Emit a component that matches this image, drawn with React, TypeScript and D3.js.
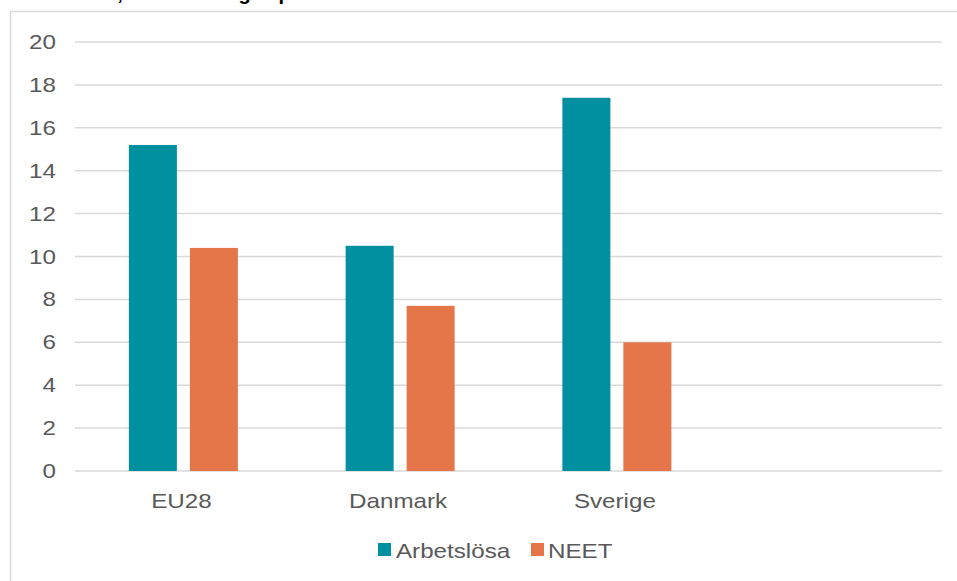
import React from "react";
import * as d3 from "d3";

const categories = ["EU28", "Danmark", "Sverige", ""];
const seriesNames = ["Arbetslösa", "NEET"];
const arbetslosa = [15.2, 10.5, 17.4];
const neet = [10.4, 7.7, 6.0];
const yTicks = [0, 2, 4, 6, 8, 10, 12, 14, 16, 18, 20];
const colors = ["#00909F", "#E4764A"];
const title = "Arbetslösa, andel av unga i procent";

const W = 957;
const H = 581;
const plot = { left: 75, right: 942, top: 42, bottom: 471 };
const font = "'Liberation Sans', Arial, sans-serif";
const textColor = "#595959";
const gridColor = "#D9D9D9";
const stretch = 1.18;

type LabelProps = {
  x: number;
  y: number;
  anchor?: "start" | "middle" | "end";
  size?: number;
  children: React.ReactNode;
};

// Text drawn with a slightly widened glyph box
function Label({ x, y, anchor = "start", size = 20.5, children }: LabelProps) {
  return (
    <text
      transform={`translate(${x},${y}) scale(${stretch},1)`}
      textAnchor={anchor}
      fontFamily={font}
      fontSize={size}
      fill={textColor}
    >
      {children}
    </text>
  );
}

export default function App() {
  const x = d3
    .scaleBand<string>()
    .domain(categories)
    .range([plot.left, plot.right]);
  const y = d3.scaleLinear().domain([0, 20]).range([plot.bottom, plot.top]);
  const groupWidth = 109;
  const xSub = d3
    .scaleBand<string>()
    .domain(seriesNames)
    .range([0, groupWidth])
    .paddingInner(13 / 61);

  const series = [arbetslosa, neet];

  return (
    <svg
      width={W}
      height={H}
      style={{ position: "absolute", left: 0, top: 0, background: "#fff" }}
    >
      <rect x={0} y={0} width={W} height={H} fill="#fff" />
      <text
        x={14}
        y={0}
        fontFamily={font}
        fontWeight="bold"
        fontSize={20}
        fill="#000"
      >
        {title}
      </text>
      {/* chart frame */}
      <path
        d={`M10.5,${H} V11.5 H${W}`}
        fill="none"
        stroke={gridColor}
        strokeWidth={1.5}
      />
      {/* gridlines and y tick labels */}
      {yTicks.map((t) => (
        <g key={t}>
          <line
            x1={plot.left}
            x2={plot.right}
            y1={y(t)}
            y2={y(t)}
            stroke={gridColor}
            strokeWidth={1.5}
          />
          <Label x={56} y={y(t) + 7} anchor="end">
            {t}
          </Label>
        </g>
      ))}
      {/* bars */}
      {series.map((vals, si) =>
        vals.map((v, ci) => {
          const cx = (x(categories[ci]) as number) + x.bandwidth() / 2;
          const bx = cx - groupWidth / 2 + (xSub(seriesNames[si]) as number);
          return (
            <rect
              key={`${si}-${ci}`}
              x={bx}
              y={y(v)}
              width={xSub.bandwidth()}
              height={y(0) - y(v)}
              fill={colors[si]}
            />
          );
        })
      )}
      {/* category labels */}
      {categories.map((c) => (
        <Label
          key={c || "empty"}
          x={(x(c) as number) + x.bandwidth() / 2 - 2}
          y={507.5}
          anchor="middle"
        >
          {c}
        </Label>
      ))}
      {/* legend */}
      <g>
        <rect x={378} y={543} width={13} height={13} fill={colors[0]} />
        <Label x={396} y={557.5} size={20.5}>
          {seriesNames[0]}
        </Label>
        <rect x={531} y={543} width={13} height={13} fill={colors[1]} />
        <Label x={548} y={557.5} size={20.5}>
          {seriesNames[1]}
        </Label>
      </g>
    </svg>
  );
}
